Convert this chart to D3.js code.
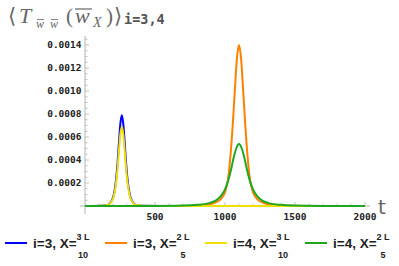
<!DOCTYPE html>
<html>
<head>
<meta charset="utf-8">
<script src="https://cdn.jsdelivr.net/npm/d3@7"></script>
<style>
  html, body { margin: 0; padding: 0; background: #fff; }
  svg { display: block; }
</style>
</head>
<body>
<div id="chart"></div>
<script>
// ---- data ----
var tBlue   = [0, 113, 163, 188, 208, 223, 233, 243, 253, 263, 273, 283, 293, 303, 318, 338, 363, 413, 600, 2000];
var vBlue   = [0, 0.000002, 0.00001, 0.00004, 0.00011, 0.00024, 0.00038, 0.00056, 0.00072, 0.00079,
               0.00072, 0.00056, 0.00038, 0.00024, 0.00011, 0.00004, 0.00001, 0.000002, 0, 0];
var vYellow = [0, 0.0000017, 0.000009, 0.000035, 0.000096, 0.00021, 0.00033, 0.00049, 0.00063, 0.00069,
               0.00063, 0.00049, 0.00033, 0.00021, 0.000096, 0.000035, 0.000009, 0.0000017, 0, 0];

var tOrange = [0, 750, 850, 930, 970, 1000, 1020, 1040, 1055, 1070, 1085, 1100,
               1115, 1130, 1145, 1160, 1180, 1200, 1230, 1270, 1350, 1450, 2000];
var vOrange = [0, 0, 0.000008, 0.00003, 0.00006, 0.00012, 0.00022, 0.00045, 0.0007, 0.001, 0.00128, 0.0014,
               0.00128, 0.001, 0.0007, 0.00045, 0.00022, 0.00012, 0.00006, 0.00003, 0.000008, 0, 0];

var tGreen  = [0, 500, 700, 800, 880, 930, 970, 1000, 1020, 1040, 1060, 1080, 1100,
               1120, 1140, 1160, 1180, 1200, 1230, 1270, 1320, 1400, 1500, 1700, 2000];
var vGreen  = [0, 0.000001, 0.000004, 0.00001, 0.000023, 0.000045, 0.000085, 0.000145, 0.00021, 0.0003, 0.00041, 0.0005, 0.00054,
               0.0005, 0.00041, 0.0003, 0.00021, 0.000145, 0.000085, 0.000045, 0.000023, 0.00001, 0.000004, 0.000001, 0];

var seriesNames = ['i=3, X=', 'i=3, X=', 'i=4, X=', 'i=4, X='];
var fracNum = ['3 L', '2 L', '3 L', '2 L'];
var fracDen = ['10', '5', '10', '5'];
var colors = ['#0000ff', '#ff8000', '#f0e000', '#1fa81f'];

var xTicks = [500, 1000, 1500, 2000];
var yTicks = [0.0002, 0.0004, 0.0006, 0.0008, 0.0010, 0.0012, 0.0014];
var yTickLabels = ['0.0002', '0.0004', '0.0006', '0.0008', '0.0010', '0.0012', '0.0014'];

// ---- setup ----
var W = 399, H = 266;
var svg = d3.select('#chart').append('svg').attr('width', W).attr('height', H);

var x = d3.scaleLinear().domain([0, 2000]).range([85, 365]);
var y = d3.scaleLinear().domain([0, 0.0014]).range([206, 45]);

var axisColor = '#b3b3b3';

// axes lines
svg.append('line')
  .attr('x1', 80).attr('x2', 370).attr('y1', y(0)).attr('y2', y(0))
  .attr('stroke', axisColor).attr('stroke-width', 1);
svg.append('line')
  .attr('x1', x(0)).attr('x2', x(0)).attr('y1', 36).attr('y2', 214)
  .attr('stroke', axisColor).attr('stroke-width', 1);

// minor / major ticks on x
d3.range(100, 2001, 100).forEach(function(t) {
  var major = t % 500 === 0;
  svg.append('line')
    .attr('x1', x(t)).attr('x2', x(t))
    .attr('y1', y(0)).attr('y2', y(0) - (major ? 4 : 2.5))
    .attr('stroke', axisColor).attr('stroke-width', 0.8);
});
// minor / major ticks on y
d3.range(1, 30).forEach(function(k) {
  var v = k * 0.00005;
  var major = k % 4 === 0;
  svg.append('line')
    .attr('x1', x(0)).attr('x2', x(0) + (major ? 4 : 2.5))
    .attr('y1', y(v)).attr('y2', y(v))
    .attr('stroke', axisColor).attr('stroke-width', 0.8);
});

var tickFont = '"DejaVu Sans Mono", monospace';
svg.selectAll('.xlab').data(xTicks).enter().append('text')
  .attr('x', function(d) { return x(d); })
  .attr('y', 219.5)
  .attr('text-anchor', 'middle')
  .attr('font-family', tickFont).attr('font-weight', 'bold')
  .attr('font-size', '9.5px').attr('fill', '#222')
  .text(function(d) { return d; });

svg.selectAll('.ylab').data(yTicks).enter().append('text')
  .attr('x', 81.5)
  .attr('y', function(d) { return y(d) + 3.3; })
  .attr('text-anchor', 'end')
  .attr('font-family', tickFont).attr('font-weight', 'bold')
  .attr('font-size', '9.5px').attr('fill', '#222')
  .text(function(d, i) { return yTickLabels[i]; });

// axis label t
svg.append('text')
  .attr('x', 378).attr('y', 214)
  .attr('font-family', '"DejaVu Sans", sans-serif')
  .attr('font-size', '20px').attr('fill', '#666')
  .text('t');

// ---- curves ----
var line = d3.line()
  .x(function(d) { return x(d[0]); })
  .y(function(d) { return y(d[1]); })
  .curve(d3.curveMonotoneX);

var curves = [
  d3.zip(tBlue, vBlue),
  d3.zip(tOrange, vOrange),
  d3.zip(tBlue, vYellow),
  d3.zip(tGreen, vGreen)
];
curves.forEach(function(c, i) {
  svg.append('path')
    .attr('d', line(c))
    .attr('fill', 'none')
    .attr('stroke', colors[i])
    .attr('stroke-width', 2)
    .attr('stroke-linejoin', 'round');
});

// ---- title ----
var serif = '"Liberation Serif", "DejaVu Serif", serif';
var tg = svg.append('g').attr('font-family', serif).attr('fill', '#666');
function tpart(px, py, s, size, italic) {
  return tg.append('text').attr('x', px).attr('y', py)
    .attr('font-size', size + 'px')
    .attr('font-style', italic ? 'italic' : 'normal')
    .text(s);
}
function bar(x1, x2, yy, w) {
  tg.append('line').attr('x1', x1).attr('x2', x2).attr('y1', yy).attr('y2', yy)
    .attr('stroke', '#666').attr('stroke-width', w);
}
tpart(8, 23, '\u27E8', 21, false);
tpart(19, 23, 'T', 22, true);
tpart(36, 28, 'w', 12, true);
bar(37, 44, 19.5, 0.8);
tpart(50, 28, 'w', 12, true);
bar(51, 58, 19.5, 0.8);
tpart(66, 23, '(', 21, false);
tpart(75, 23, 'w', 22, true);
bar(75, 92, 9, 1.2);
tpart(93, 27, 'X', 14, true);
tpart(106, 23, ')', 21, false);
tpart(114, 23, '\u27E9', 21, false);
svg.append('text').attr('x', 124).attr('y', 24)
  .attr('font-family', '"DejaVu Sans Mono", monospace').attr('font-weight', 'bold')
  .attr('font-size', '13.5px').attr('fill', '#555').text('i=3,4');

// ---- legend ----
var legendX = [5, 105, 205, 305];
seriesNames.forEach(function(name, i) {
  var lx = legendX[i];
  var g = svg.append('g');
  g.append('line')
    .attr('x1', lx).attr('x2', lx + 22).attr('y1', 243).attr('y2', 243)
    .attr('stroke', colors[i]).attr('stroke-width', 2);
  var txt = g.append('text')
    .attr('x', lx + 28).attr('y', 247.5)
    .attr('font-family', '"Liberation Sans", Arial, sans-serif')
    .attr('font-weight', 'bold').attr('font-size', '13.5px').attr('fill', '#222')
    .text(name);
  var fx = lx + 28 + txt.node().getComputedTextLength() + 6.5;
  g.append('text')
    .attr('x', fx).attr('y', 240)
    .attr('text-anchor', 'middle')
    .attr('font-family', '"Liberation Sans", Arial, sans-serif')
    .attr('font-weight', 'bold').attr('font-size', '9px').attr('fill', '#222')
    .text(fracNum[i]);
  g.append('text')
    .attr('x', fx).attr('y', 258)
    .attr('text-anchor', 'middle')
    .attr('font-family', '"Liberation Sans", Arial, sans-serif')
    .attr('font-weight', 'bold').attr('font-size', '9px').attr('fill', '#222')
    .text(fracDen[i]);
});
</script>
</body>
</html>
